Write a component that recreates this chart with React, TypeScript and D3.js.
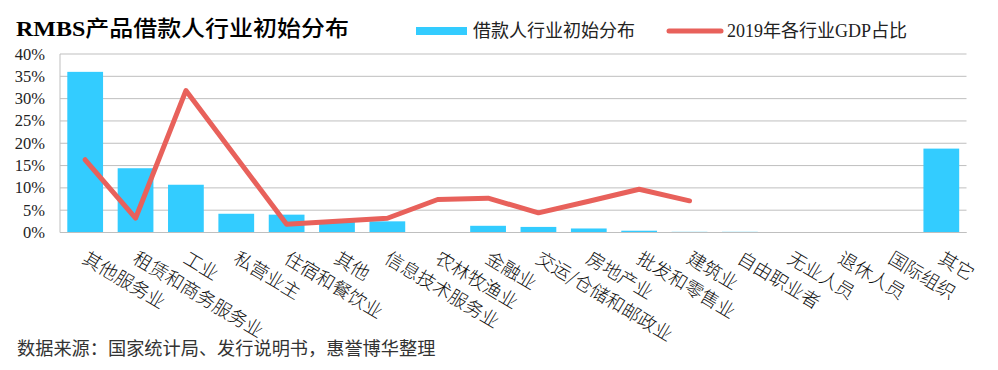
import React from 'react'
import * as d3 from 'd3'

const categories = [
  '其他服务业', '租赁和商务服务业', '工业', '私营业主', '住宿和餐饮业', '其他',
  '信息技术服务业', '农林牧渔业', '金融业', '交运/仓储和邮政业', '房地产业',
  '批发和零售业', '建筑业', '自由职业者', '无业人员', '退休人员', '国际组织', '其它',
]
// 借款人行业初始分布 (%)
const borrowerShare = [36.0, 14.4, 10.7, 4.2, 4.0, 2.4, 2.5, 0, 1.5, 1.25, 0.9, 0.4, 0.15, 0.15, 0, 0, 0, 18.8]
// 2019年各行业GDP占比 (%), null = no value (Excel connects across the gap)
const gdpShare: (number | null)[] = [16.3, 3.2, 31.8, null, 1.85, null, 3.2, 7.4, 7.7, 4.4, 7.0, 9.7, 7.1, null, null, null, null, null]
const yTicks = [0, 5, 10, 15, 20, 25, 30, 35, 40]

const W = 998
const H = 370
const plot = { left: 60, right: 966.5, top: 54, bottom: 232.5 }
const BAR = '#33CCFF'
const LINE = '#E8615B'
const GRID = '#BFBFBF'
const SERIF = "'Liberation Serif', 'Noto Sans CJK SC', serif"
const CJK = "'Noto Sans CJK SC', 'Liberation Serif', sans-serif"

export default function App() {
  const x = d3.scaleBand<string>()
    .domain(categories)
    .range([plot.left, plot.right])
    .paddingInner(0.29)
    .paddingOuter(0.145)
  const y = d3.scaleLinear().domain([0, 40]).range([plot.bottom, plot.top])
  const cx = (c: string) => (x(c) ?? 0) + x.bandwidth() / 2

  const linePts = categories
    .map((c, i) => ({ c, v: gdpShare[i] }))
    .filter((d) => d.v !== null) as { c: string; v: number }[]
  const line = d3.line<{ c: string; v: number }>()
    .x((d) => cx(d.c))
    .y((d) => y(d.v))

  return (
    <svg width={W} height={H} style={{ position: 'absolute', left: 0, top: 0, background: '#fff' }}>
      {/* title (the original is slightly stretched horizontally) */}
      <text transform="translate(16,36) scale(1.09,1)" fontSize={22} fill="#000">
        <tspan fontFamily={SERIF} fontWeight="bold">RMBS</tspan>
        <tspan fontFamily={CJK} fontWeight={500}>产品借款人行业初始分布</tspan>
      </text>

      {/* legend */}
      <rect x={416} y={27} width={51} height={8} fill={BAR} />
      <text x={473} y={37} fontSize={18} fontFamily={CJK} fill="#222">借款人行业初始分布</text>
      <line x1={669} x2={721} y1={31} y2={31} stroke={LINE} strokeWidth={5} strokeLinecap="round" />
      <text x={727} y={37} fontSize={18} fontFamily={SERIF} fill="#222">2019年各行业GDP占比</text>

      {/* gridlines + y ticks */}
      {yTicks.map((t) => (
        <g key={t}>
          <line x1={plot.left} x2={plot.right} y1={y(t)} y2={y(t)} stroke={GRID} strokeWidth={1} />
          <text x={45} y={y(t) + 5.5} textAnchor="end" fontSize={16.5} fontFamily={SERIF} fill="#222">{t}%</text>
        </g>
      ))}
      <line x1={plot.left} x2={plot.left} y1={plot.top} y2={plot.bottom} stroke={GRID} strokeWidth={1} />

      {/* bars */}
      {categories.map((c, i) => (
        borrowerShare[i] > 0 ? (
          <rect key={c} x={x(c)} y={y(borrowerShare[i])} width={x.bandwidth()}
            height={y(0) - y(borrowerShare[i])} fill={BAR} />
        ) : null
      ))}
      <line x1={plot.left} x2={plot.right} y1={y(0)} y2={y(0)} stroke={GRID} strokeWidth={1} />

      {/* GDP line */}
      <path d={line(linePts) ?? ''} fill="none" stroke={LINE} strokeWidth={5}
        strokeLinejoin="round" strokeLinecap="round" />

      {/* x labels */}
      {categories.map((c) => (
        <text key={c} transform={`translate(${cx(c) - 4},${262}) rotate(31)`}
          fontSize={18.5} fontFamily={CJK} fontWeight={300} fill="#111">{c}</text>
      ))}

      {/* source */}
      <text x={17} y={355} fontSize={18.2} fontFamily={CJK} fill="#333">数据来源：国家统计局、发行说明书，惠誉博华整理</text>
    </svg>
  )
}
